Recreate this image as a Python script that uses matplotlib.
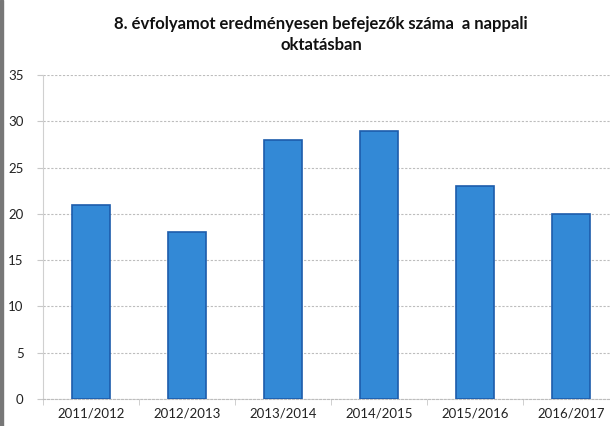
import matplotlib
matplotlib.use("Agg")
import matplotlib.pyplot as plt
from matplotlib.patches import Rectangle

categories = ["2011/2012", "2012/2013", "2013/2014", "2014/2015", "2015/2016", "2016/2017"]
values = [21, 18, 28, 29, 23, 20]
yticks = [0, 5, 10, 15, 20, 25, 30, 35]
title = "8. évfolyamot eredményesen befejezők száma  a nappali\noktatásban"

plt.rcParams['font.family'] = ['Lato', 'DejaVu Sans']

fig = plt.figure(figsize=(6.10, 4.26), dpi=100)
fig.patch.set_facecolor("white")
ax = fig.add_axes([43/610, 27/426, 576/610, 324/426])

x = list(range(len(categories)))
ax.bar(x, values, width=0.4, color="#3389d6", edgecolor="#1d5cab", linewidth=1.2, zorder=3)

ax.set_xlim(-0.5, len(categories) - 0.5)
ax.set_ylim(0, 35)
ax.set_yticks(yticks)
ax.set_yticklabels([str(v) for v in yticks], fontsize=9.5, color="#222222")
ax.set_xticks(x)
ax.set_xticklabels(categories, fontsize=9.5, color="#222222")
ax.tick_params(axis="x", length=0, pad=6)
ax.tick_params(axis="y", length=4, color="#c8c8c8", pad=10)
# category boundary ticks
ax.set_xticks([i - 0.5 for i in range(len(categories) + 1)], minor=True)
ax.tick_params(axis="x", which="minor", length=4, color="#c8c8c8")

ax.grid(axis="y", color="#bdbdbd", linestyle=(0, (2, 1.5)), linewidth=0.8, zorder=0)
for s in ["top", "right"]:
    ax.spines[s].set_visible(False)
ax.spines["left"].set_color("#d0d0d0")
ax.spines["bottom"].set_color("#bdbdbd")
ax.spines["bottom"].set_linestyle((0, (2, 1.5)))

fig.text(321/610, 1 - 16/426, title, ha="center", va="top", fontsize=12,
         fontweight="bold", linespacing=1.35, color="#111111")

fig.patches.append(Rectangle((0, 0), 2.5/610, 1, transform=fig.transFigure,
                             color="#777777", zorder=10))

fig.savefig("out.png", dpi=100)
